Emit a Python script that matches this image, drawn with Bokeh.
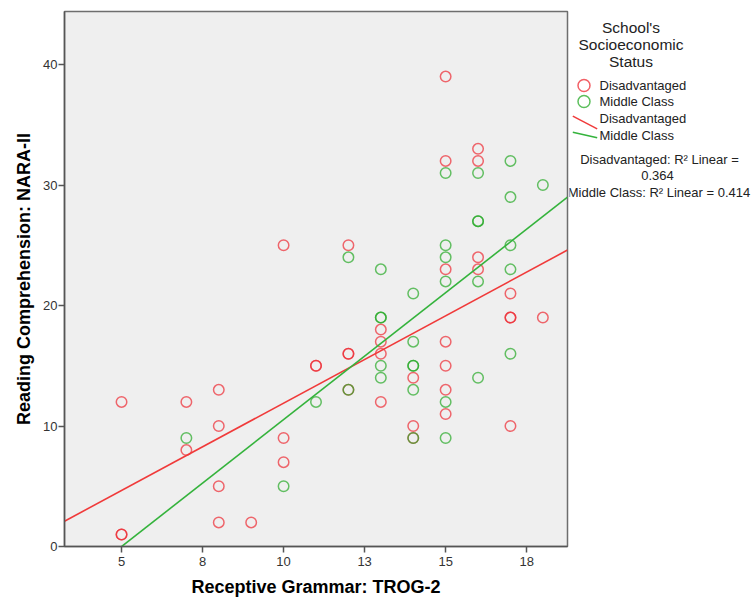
from bokeh.plotting import figure
from bokeh.models import Range1d, FixedTicker
from bokeh.layouts import row
from bokeh.core.properties import value
from bokeh.embed import file_html
from bokeh.resources import INLINE

# ---- data ----
dis_x = [5, 5, 5, 7, 7, 8, 8, 8, 8, 9, 10, 10, 10, 11, 11, 12, 12, 12, 12,
         13, 13, 13, 13, 14, 14, 14, 15, 15, 15, 15, 15, 15, 15,
         16, 16, 16, 16, 17, 17, 17, 17, 18]
dis_y = [12, 1, 1, 12, 8, 13, 10, 5, 2, 2, 25, 9, 7, 15, 15, 25, 16, 16, 13,
         18, 17, 16, 12, 14, 10, 9, 39, 32, 23, 17, 15, 13, 11,
         33, 32, 24, 23, 21, 19, 19, 10, 19]
mid_x = [7, 10, 11, 12, 12, 13, 13, 13, 13, 13, 14, 14, 14, 14, 14, 14,
         15, 15, 15, 15, 15, 15, 16, 16, 16, 16, 16, 17, 17, 17, 17, 17, 18]
mid_y = [9, 5, 12, 24, 13, 23, 19, 19, 15, 14, 21, 17, 15, 15, 13, 9,
         31, 25, 24, 22, 12, 9, 31, 27, 27, 22, 14, 32, 29, 25, 23, 16, 30]

# fitted lines (intercept, slope) and R squared as printed
dis_fit = (-2.6, 1.45)
mid_fit = (-10.54, 2.107)
dis_r2 = "0.364"
mid_r2 = "0.414"

group_names = ["Disadvantaged", "Middle Class"]
legend_title = ["School's", "Socioeconomic", "Status"]

x_ticks = [5, 7.5, 10, 12.5, 15, 17.5]
x_tick_labels = ["5", "8", "10", "13", "15", "18"]
y_ticks = [0, 10, 20, 30, 40]
x_lim = (3.24, 18.76)
y_lim = (0, 44.4)

x_title = "Receptive Grammar: TROG-2"
y_title = "Reading Comprehension: NARA-II"

# ---- styling ----
RED_M = "#ee2b33"
GRN_M = "#26aa26"
RED_L = "#f03a3a"
GRN_L = "#34b33c"
FONT = "Liberation Sans"
TXT = "#222222"

W, H = 755, 600
FL, FT, FW, FH = 64, 11, 503, 535
FB = FT + FH
MAIN_W = FL + FW + 2
p = figure(width=MAIN_W, height=H, output_backend="svg", toolbar_location=None,
           x_range=Range1d(*x_lim), y_range=Range1d(*y_lim),
           min_border_left=FL, min_border_right=MAIN_W - FL - FW,
           min_border_top=FT, min_border_bottom=H - FB)
p.background_fill_color = "#efefef"
p.border_fill_color = "white"
p.outline_line_color = "#6e6e6e"
p.outline_line_width = 1.5
p.grid.visible = False

for ax in (p.xaxis[0], p.yaxis[0]):
    ax.axis_line_color = "#555555"
    ax.axis_line_width = 1.5
    ax.major_tick_line_color = "#555555"
    ax.major_tick_line_width = 1.5
    ax.major_tick_out = 6
    ax.major_tick_in = 0
    ax.minor_tick_line_color = None
    ax.major_label_text_font = FONT
    ax.major_label_text_font_size = "13px"
    ax.major_label_text_color = "#333333"
    ax.axis_label_text_font = FONT
    ax.axis_label_text_font_size = "18px"
    ax.axis_label_text_font_style = "bold"
    ax.axis_label_text_color = "black"

p.xaxis.ticker = FixedTicker(ticks=x_ticks)
p.xaxis.major_label_overrides = {t: l for t, l in zip(x_ticks, x_tick_labels)}
p.xaxis.major_label_standoff = 4
p.xaxis.axis_label_standoff = 8
p.xaxis.axis_label = x_title

p.yaxis.ticker = FixedTicker(ticks=y_ticks)
p.yaxis.major_label_standoff = 1
p.yaxis.axis_label_standoff = 6
p.yaxis.axis_label = y_title

# ---- points ----
p.scatter(dis_x, dis_y, marker="circle", size=10.5, fill_alpha=0,
          line_color=RED_M, line_alpha=0.7, line_width=1.5)
p.scatter(mid_x, mid_y, marker="circle", size=10.5, fill_alpha=0,
          line_color=GRN_M, line_alpha=0.7, line_width=1.5)

# ---- fit lines across the x range ----
for (a, b), col in ((dis_fit, RED_L), (mid_fit, GRN_L)):
    xs = list(x_lim)
    ys = [a + b * x for x in xs]
    p.line(xs, ys, line_color=col, line_width=1.6)

# ---- legend panel: a second figure whose data units are page pixels ----
LW = W - MAIN_W
lg = figure(width=LW, height=H, output_backend="svg", toolbar_location=None,
            x_range=Range1d(MAIN_W, W), y_range=Range1d(FB, FT),
            x_axis_type=None, y_axis_type=None,
            min_border_left=0, min_border_right=0,
            min_border_top=FT, min_border_bottom=H - FB)
lg.outline_line_color = None
lg.background_fill_color = "white"
lg.border_fill_color = "white"
lg.grid.visible = False

title_x = [630.5] * len(legend_title)
title_y = [27 + 17 * i for i in range(len(legend_title))]
lg.text(x=title_x, y=title_y, text=legend_title, text_align="center",
        text_baseline="middle", text_font=value(FONT), text_font_size="15.5px",
        text_color=TXT)

item_y = [85, 101, 118, 135]
lg.text(x=[599] * 4, y=item_y, text=group_names + group_names, text_align="left",
        text_baseline="middle", text_font=value(FONT), text_font_size="13px",
        text_color=TXT)

lg.scatter(x=[583.5, 583.5], y=item_y[:2], marker="circle", size=12, fill_alpha=0,
           line_color=[RED_M, GRN_M], line_alpha=0.75, line_width=1.5)
lg.segment(x0=[572.3, 572.3], y0=[115.7, 131.7], x1=[596.7, 596.7], y1=[128.3, 137.3],
           line_color=[RED_L, GRN_L], line_width=1.5)

r2_text = [f"{group_names[0]}: R\u00b2 Linear =", dis_r2,
           f"{group_names[1]}: R\u00b2 Linear = {mid_r2}"]
lg.text(x=[659, 657, 658.5], y=[159, 175, 192], text=r2_text, text_align="center",
        text_baseline="middle", text_font=value(FONT), text_font_size="13px",
        text_color=TXT)

layout = row(p, lg, spacing=0)
open("out.html", "w").write(file_html(layout, INLINE))
